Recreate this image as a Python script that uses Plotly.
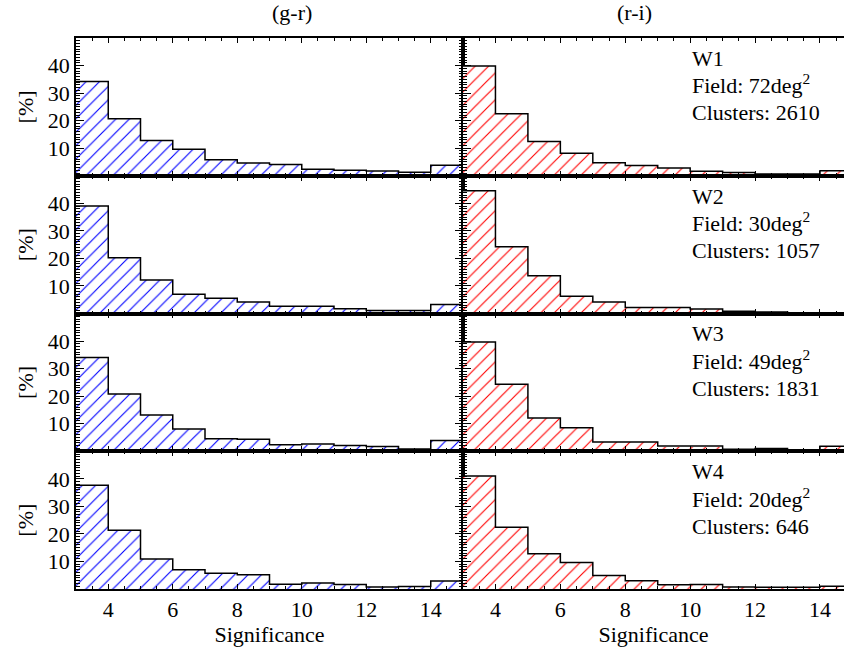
import plotly.graph_objects as go
from plotly.subplots import make_subplots

# ---- data ----
bin_edges = [3, 4, 5, 6, 7, 8, 9, 10, 11, 12, 13, 14, 15]
fields = ["W1", "W2", "W3", "W4"]
areas = ["72", "30", "49", "20"]
clusters = ["2610", "1057", "1831", "646"]

gr_W1 = [34.2, 20.7, 12.8, 9.6, 5.8, 4.6, 4.1, 2.4, 2.0, 1.7, 1.3, 3.8]
gr_W2 = [39.0, 20.2, 12.2, 7.0, 5.5, 4.2, 2.6, 2.6, 1.7, 1.1, 1.1, 3.3]
gr_W3 = [34.0, 20.8, 13.2, 8.1, 4.5, 4.4, 2.4, 2.6, 2.1, 1.7, 0.8, 3.9]
gr_W4 = [37.7, 21.3, 10.9, 7.0, 5.7, 5.2, 1.7, 2.2, 1.6, 0.7, 0.9, 2.9]

ri_W1 = [39.8, 22.5, 12.4, 8.2, 4.7, 3.7, 2.8, 1.6, 1.2, 0.6, 0.6, 1.8]
ri_W2 = [44.6, 24.2, 13.7, 6.3, 4.2, 2.2, 2.2, 1.6, 0.8, 0.5, 0.3, 0.3]
ri_W3 = [39.7, 24.3, 12.1, 8.5, 3.4, 3.4, 1.9, 1.9, 0.7, 1.0, 0.2, 1.8]
ri_W4 = [41.0, 22.4, 12.8, 9.6, 4.9, 3.0, 1.5, 1.6, 0.7, 0.6, 0.6, 1.0]

x_ticks = [4, 6, 8, 10, 12, 14]
y_ticks = [10, 20, 30, 40]

gr_all = [gr_W1, gr_W2, gr_W3, gr_W4]
ri_all = [ri_W1, ri_W2, ri_W3, ri_W4]

FONT = "Liberation Serif"
FS = 22
W, H = 844, 652
ML, MR, MT, MB = 76, 0, 38, 63

fig = make_subplots(rows=4, cols=2, shared_xaxes=False,
                    horizontal_spacing=0, vertical_spacing=0,
                    column_widths=[387, 381])

centers = [(a + b) / 2 for a, b in zip(bin_edges[:-1], bin_edges[1:])]

def add_hist(vals, row, col, color):
    fig.add_trace(go.Bar(
        x=centers, y=vals, width=1,
        marker=dict(color="white", line=dict(width=0),
                    pattern=dict(shape="/", fgcolor=color, bgcolor="white",
                                 size=9.5, solidity=0.12, fillmode="replace")),
        showlegend=False, hoverinfo="skip"), row=row, col=col)
    step_x = bin_edges[:-1] + [bin_edges[-1]]
    step_y = list(vals) + [vals[-1]]
    fig.add_trace(go.Scatter(
        x=step_x, y=step_y, mode="lines", line=dict(color="black", width=1.5, shape="hv"),
        showlegend=False, hoverinfo="skip"), row=row, col=col)

for i in range(4):
    add_hist(gr_all[i], i + 1, 1, "#0000ff")
    add_hist(ri_all[i], i + 1, 2, "#ff0000")

fig.update_layout(bargap=0, barmode="overlay")

for i in range(4):
    r = i + 1
    for c in (1, 2):
        xr = [3, 15] if c == 1 else [3, 14.74]
        fig.update_xaxes(
            range=xr, tickvals=x_ticks, ticks="inside", ticklen=5, tickwidth=1,
            tickcolor="black", showline=True, linecolor="black", linewidth=1.6,
            mirror="ticks", showgrid=False, zeroline=False,
            showticklabels=(r == 4),
            minor=dict(ticks="inside", ticklen=3, tickwidth=1, tickcolor="black",
                       tick0=3, dtick=0.5, showgrid=False),
            tickfont=dict(family=FONT, size=FS, color="black"),
            title=dict(text="Significance" if r == 4 else "",
                       font=dict(family=FONT, size=FS, color="black"), standoff=0),
            row=r, col=c)
        fig.update_yaxes(
            range=[0, 50], tickvals=y_ticks, ticks="inside", ticklen=8, tickwidth=1,
            tickcolor="black", showline=True, linecolor="black", linewidth=1.6,
            mirror=("ticks" if c == 1 else False), showgrid=False, zeroline=False,
            showticklabels=(c == 1),
            minor=dict(ticks="inside", ticklen=4, tickwidth=1, tickcolor="black",
                       tick0=0, dtick=1, showgrid=False),
            tickfont=dict(family=FONT, size=FS, color="black"),
            title=dict(text="[%]" if c == 1 else "",
                       font=dict(family=FONT, size=FS, color="black"), standoff=8),
            row=r, col=c)

# annotations in right panels
for i in range(4):
    xref = "x%d" % (2 * i + 2)
    yref = "y%d" % (2 * i + 2)
    lines = [(fields[i], 42.6),
             ("Field: %sdeg<sup>2</sup>" % areas[i], 33.2),
             ("Clusters: %s" % clusters[i], 22.8)]
    for txt, yy in lines:
        fig.add_annotation(x=10, y=yy, xref=xref, yref=yref, text=txt,
                           showarrow=False, xanchor="left", yanchor="middle",
                           font=dict(family=FONT, size=FS, color="black"))

# column titles
left_dom = fig.layout.xaxis.domain
right_dom = fig.layout.xaxis2.domain
fig.add_annotation(x=(left_dom[0] + left_dom[1]) / 2, y=1, xref="paper", yref="paper",
                   yshift=11, text="(g-r)", showarrow=False, yanchor="bottom",
                   font=dict(family=FONT, size=FS, color="black"))
fig.add_annotation(x=(right_dom[0] + right_dom[1]) / 2, y=1, xref="paper", yref="paper",
                   yshift=11, text="(r-i)", showarrow=False, yanchor="bottom",
                   font=dict(family=FONT, size=FS, color="black"))

fig.update_layout(width=W, height=H, margin=dict(l=ML, r=MR, t=MT, b=MB),
                  paper_bgcolor="white", plot_bgcolor="white",
                  font=dict(family=FONT, size=FS, color="black"))

fig.write_html("out.html")
